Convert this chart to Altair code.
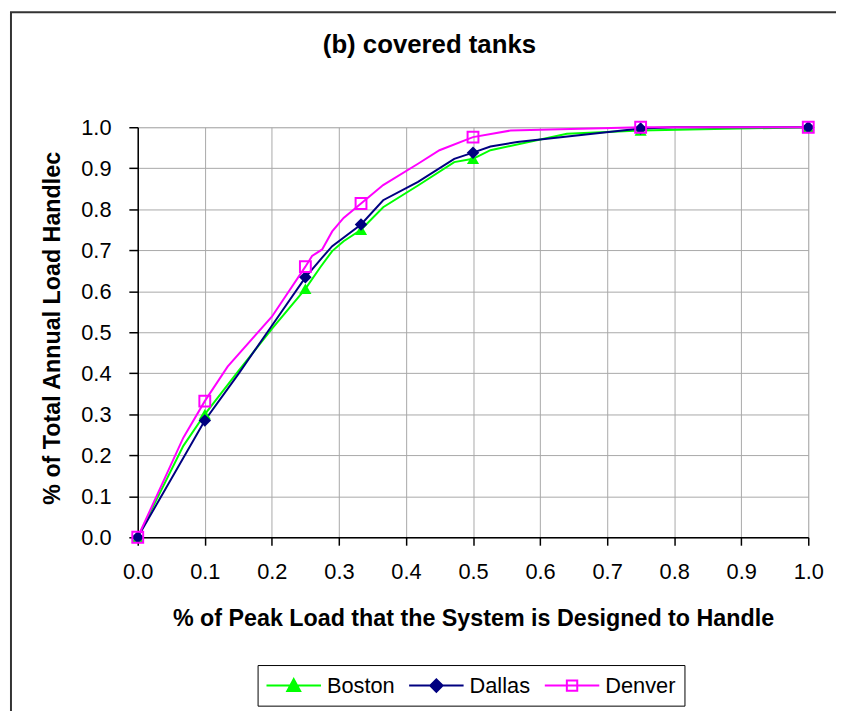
import altair as alt
import pandas as pd

# ---------------- data ----------------
cities = ["Boston", "Dallas", "Denver"]
line_colors = ["#00ff00", "#000080", "#ff00ff"]
marker_fills = ["#00ff00", "#000080", "transparent"]

marker_x = [0.0, 0.1, 0.25, 0.333, 0.5, 0.75, 1.0]
boston_marker_y = [0.0, 0.300, 0.606, 0.750, 0.923, 0.992, 1.0]
dallas_marker_y = [0.0, 0.285, 0.634, 0.763, 0.938, 0.997, 1.0]
denver_marker_y = [0.0, 0.332, 0.660, 0.814, 0.976, 1.000, 1.0]

boston_curve_x = [0.0, 0.068, 0.1, 0.15, 0.2, 0.25, 0.272, 0.29, 0.307, 0.333,
                  0.366, 0.418, 0.472, 0.5, 0.526, 0.64, 0.75, 1.0]
boston_curve_y = [0.0, 0.223, 0.300, 0.405, 0.508, 0.606, 0.658, 0.698, 0.722, 0.750,
                  0.805, 0.858, 0.915, 0.923, 0.944, 0.984, 0.992, 1.0]

dallas_curve_x = [0.0, 0.1, 0.15, 0.2, 0.25, 0.275, 0.29, 0.333, 0.366, 0.418,
                  0.472, 0.5, 0.526, 0.566, 0.75, 0.8, 1.0]
dallas_curve_y = [0.0, 0.285, 0.398, 0.516, 0.634, 0.682, 0.710, 0.763, 0.822, 0.867,
                  0.923, 0.938, 0.953, 0.964, 0.997, 1.0, 1.0]

denver_curve_x = [0.0, 0.068, 0.1, 0.134, 0.2, 0.25, 0.26, 0.275, 0.29, 0.307, 0.333,
                  0.366, 0.418, 0.45, 0.5, 0.556, 0.75, 1.0]
denver_curve_y = [0.0, 0.243, 0.332, 0.416, 0.538, 0.660, 0.686, 0.702, 0.746, 0.779, 0.814,
                  0.859, 0.911, 0.944, 0.976, 0.992, 1.0, 1.0]

axis_ticks = [0.0, 0.1, 0.2, 0.3, 0.4, 0.5, 0.6, 0.7, 0.8, 0.9, 1.0]

title_text = "(b) covered tanks"
x_title = "% of Peak Load that the System is Designed to Handle"
y_title = "% of Total Annual Load Handlec"

# legend symbols: a line segment with the series marker on it
legend_shapes = [
    "M-2.62,0H2.62M0,-0.62L0.62,0.52L-0.62,0.52Z",
    "M-2.62,0H2.62M-0.6,0L0,-0.6L0.6,0L0,0.6Z",
    "M-2.62,0H2.62M-0.5,-0.5H0.5V0.5H-0.5Z",
]

# ---------------- tables ----------------
curve_df = pd.concat([
    pd.DataFrame({"city": "Boston", "x": boston_curve_x, "y": boston_curve_y}),
    pd.DataFrame({"city": "Dallas", "x": dallas_curve_x, "y": dallas_curve_y}),
    pd.DataFrame({"city": "Denver", "x": denver_curve_x, "y": denver_curve_y}),
], ignore_index=True)

marker_df = pd.concat([
    pd.DataFrame({"city": "Boston", "x": marker_x, "y": boston_marker_y}),
    pd.DataFrame({"city": "Dallas", "x": marker_x, "y": dallas_marker_y}),
    pd.DataFrame({"city": "Denver", "x": marker_x, "y": denver_marker_y}),
], ignore_index=True)

FONT = "Liberation Sans"
W, H = 677, 414

x_scale = alt.Scale(domain=[0, 1], nice=False, zero=False)
y_scale = alt.Scale(domain=[0, 1], nice=False, zero=False)

x_axis = alt.Axis(
    values=axis_ticks, format=".1f", title=x_title,
    titleFont=FONT, titleFontSize=23.5, titleFontWeight="bold", titleColor="black",
    titleY=82, titleBaseline="middle",
    labelFont=FONT, labelFontSize=22, labelColor="black", labelBaseline="middle",
    labelPadding=27, labelFlush=False, labelOverlap=False,
    tickSize=8, tickColor="black", tickWidth=1.5,
    domainColor="black", domainWidth=1.5,
    grid=True, gridColor="#a8a8a8", gridWidth=1,
)
y_axis = alt.Axis(
    values=axis_ticks, format=".1f", title=y_title,
    titleFont=FONT, titleFontSize=23.5, titleFontWeight="bold", titleColor="black",
    titleX=-86, titleY=202.5, titleAngle=270, titleBaseline="middle", titleAlign="center",
    labelFont=FONT, labelFontSize=22, labelColor="black",
    labelPadding=18, labelFlush=False, labelOverlap=False,
    tickSize=9, tickColor="black", tickWidth=1.5,
    domainColor="black", domainWidth=1.5,
    grid=True, gridColor="#a8a8a8", gridWidth=1,
)

legend = alt.Legend(
    title=None, orient="none", legendX=121, legendY=543, direction="horizontal",
    columns=3, padding=9, strokeColor="black", fillColor="white",
    labelFont=FONT, labelFontSize=22, labelColor="black", labelBaseline="middle",
    symbolSize=441, symbolStrokeWidth=2, symbolOffset=16, labelOffset=22,
    columnPadding=9, symbolOpacity=1,
)

stroke_scale = alt.Scale(domain=cities, range=line_colors)
fill_scale = alt.Scale(domain=cities, range=marker_fills)
shape_scale = alt.Scale(domain=cities, range=legend_shapes)

# outer chart border
frame = alt.Chart(pd.DataFrame({"k": [0]})).mark_rect(
    fill="transparent", stroke="#333333", strokeWidth=2
).encode(
    x=alt.value(-128), x2=alt.value(900), y=alt.value(-116), y2=alt.value(900)
)

lines = alt.Chart(curve_df).mark_line(strokeWidth=2).encode(
    x=alt.X("x:Q", scale=x_scale, axis=x_axis),
    y=alt.Y("y:Q", scale=y_scale, axis=y_axis),
    stroke=alt.Stroke("city:N", scale=stroke_scale, legend=legend),
    order="x:Q",
)

base_pts = alt.Chart(marker_df).encode(
    x=alt.X("x:Q", scale=x_scale),
    y=alt.Y("y:Q", scale=y_scale),
)
boston_pts = base_pts.transform_filter(alt.datum.city == "Boston").mark_point(
    shape="triangle-up", filled=True, size=150, color="#00ff00", opacity=1
)
dallas_pts = base_pts.transform_filter(alt.datum.city == "Dallas").mark_point(
    shape="diamond", filled=True, size=160, color="#000080", opacity=1
)
denver_pts = base_pts.transform_filter(alt.datum.city == "Denver").mark_point(
    shape="square", filled=False, size=120, color="#ff00ff", strokeWidth=2, opacity=1
)

# legend-only layer (draws no marks; its scales give the legend symbols)
legend_layer = alt.Chart(marker_df).transform_filter("false").mark_point(
    filled=True, strokeWidth=2, opacity=1
).encode(
    x=alt.X("x:Q", scale=x_scale),
    y=alt.Y("y:Q", scale=y_scale),
    shape=alt.Shape("city:N", scale=shape_scale, legend=legend),
    fill=alt.Fill("city:N", scale=fill_scale, legend=legend),
    stroke=alt.Stroke("city:N", scale=stroke_scale, legend=legend),
)

chart = alt.layer(
    frame, lines, boston_pts, dallas_pts, denver_pts, legend_layer
).properties(
    width=W, height=H,
    title=alt.TitleParams(
        title_text, font=FONT, fontSize=26, fontWeight="bold", color="black",
        anchor="middle", dx=-44, dy=60, offset=0, baseline="middle",
    ),
    autosize=alt.AutoSizeParams(type="none"),
    padding={"left": 131, "top": 117, "right": 28, "bottom": 172},
).configure_view(
    stroke="#222222", strokeWidth=1.5
).configure(
    background="white"
)

chart.save("out.html", embed_options={"renderer": "svg", "actions": False})
